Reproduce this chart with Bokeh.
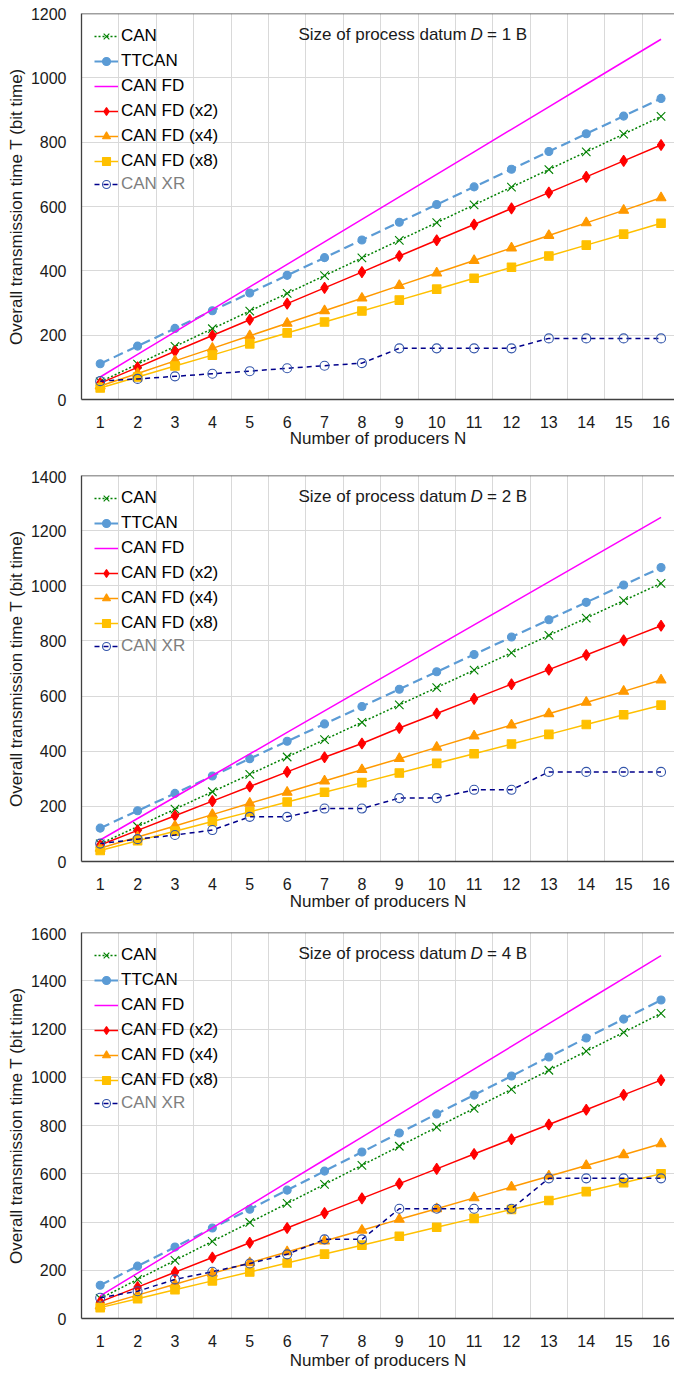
from bokeh.plotting import figure
from bokeh.layouts import column
from bokeh.models import Range1d, FixedTicker, Legend, LegendItem, Label, Span
from bokeh.embed import file_html
from bokeh.resources import INLINE

# ---------------- data ----------------
producers = [1, 2, 3, 4, 5, 6, 7, 8, 9, 10, 11, 12, 13, 14, 15, 16]
y_ticks = [0, 200, 400, 600, 800, 1000, 1200, 1400, 1600]
datum_labels = ["= 1 B", "= 2 B", "= 4 B"]
y_max = [1200, 1400, 1600]
series_names = ["CAN", "TTCAN", "CAN FD", "CAN FD (x2)", "CAN FD (x4)", "CAN FD (x8)", "CAN XR"]

# D = 1 B
can_d1 = [55, 110, 165, 220, 275, 330, 385, 440, 495, 550, 605, 660, 715, 770, 825, 880]
ttcan_d1 = [111, 166, 221, 276, 331, 386, 441, 496, 551, 606, 661, 716, 771, 826, 881, 936]
canfd_d1 = [70, 140, 210, 280, 350, 420, 490, 560, 630, 700, 770, 840, 910, 980, 1050, 1120]
canfd2_d1 = [51, 100, 150, 199, 248, 298, 347, 396, 446, 495, 544, 594, 643, 692, 742, 791]
canfd4_d1 = [42, 81, 120, 159, 198, 237, 276, 315, 354, 393, 432, 471, 510, 549, 588, 627]
canfd8_d1 = [36, 70, 104, 138, 173, 207, 241, 275, 309, 343, 377, 411, 446, 480, 514, 548]
canxr_d1 = [57, 64, 72, 80, 88, 97, 105, 113, 159, 159, 159, 159, 190, 190, 190, 190]

# D = 2 B
can_d2 = [64, 127, 190, 253, 316, 379, 442, 505, 568, 631, 694, 757, 820, 883, 946, 1009]
ttcan_d2 = [121, 184, 247, 310, 373, 436, 499, 562, 625, 688, 751, 814, 877, 940, 1003, 1066]
canfd_d2 = [78, 156, 234, 312, 390, 468, 546, 624, 702, 780, 858, 936, 1014, 1092, 1170, 1248]
canfd2_d2 = [60, 113, 166, 219, 272, 325, 378, 428, 484, 537, 590, 643, 696, 749, 802, 855]
canfd4_d2 = [48, 89, 129, 170, 211, 251, 292, 333, 373, 414, 455, 495, 536, 577, 617, 658]
canfd8_d2 = [40, 75, 110, 145, 180, 216, 251, 286, 321, 356, 391, 426, 461, 497, 532, 567]
canxr_d2 = [65, 81, 96, 114, 162, 162, 192, 192, 230, 230, 260, 260, 325, 325, 325, 325]

# D = 4 B
can_d4 = [83, 162, 241, 320, 398, 477, 556, 635, 714, 793, 871, 950, 1029, 1108, 1186, 1265]
ttcan_d4 = [138, 217, 296, 375, 453, 532, 611, 690, 769, 848, 926, 1005, 1084, 1163, 1241, 1320]
canfd_d4 = [94, 188, 282, 376, 470, 564, 658, 752, 846, 940, 1034, 1128, 1222, 1316, 1410, 1504]
canfd2_d4 = [69, 130, 192, 253, 314, 375, 437, 498, 559, 620, 682, 743, 804, 865, 927, 988]
canfd4_d4 = [52, 97, 142, 187, 231, 276, 321, 366, 411, 455, 500, 545, 590, 634, 679, 724]
canfd8_d4 = [45, 82, 119, 156, 193, 230, 267, 304, 341, 378, 415, 452, 489, 526, 563, 600]
canxr_d4 = [86, 113, 162, 194, 228, 266, 328, 328, 455, 455, 455, 455, 581, 581, 581, 581]

panels = [
    [can_d1, ttcan_d1, canfd_d1, canfd2_d1, canfd4_d1, canfd8_d1, canxr_d1],
    [can_d2, ttcan_d2, canfd_d2, canfd2_d2, canfd4_d2, canfd8_d2, canxr_d2],
    [can_d4, ttcan_d4, canfd_d4, canfd2_d4, canfd4_d4, canfd8_d4, canxr_d4],
]

# ---------------- styles ----------------
FONT = "Liberation Sans"
styles = [
    dict(color="#008000", dash="2 2", width=1.5, marker="x", size=12, fill="#008000", mline="#008000"),
    dict(color="#5B9BD5", dash="10 5", width=2.2, marker="circle", size=8, fill="#5B9BD5", mline="#5B9BD5"),
    dict(color="#FF00FF", dash="solid", width=1.5, marker=None),
    dict(color="#FF0000", dash="solid", width=1.5, marker="diamond", size=11, fill="#FF0000", mline="#FF0000"),
    dict(color="#FF9900", dash="solid", width=1.5, marker="triangle", size=10, fill="#FF9900", mline="#FF9900"),
    dict(color="#FFC000", dash="solid", width=1.5, marker="square", size=8.5, fill="#FFC000", mline="#FFC000"),
    dict(color="#00008B", dash="5 4", width=1.5, marker="circle", size=9, fill=None, mline="#3355AA"),
]

FRAME_H = 386


def make_panel(k, height, top, bottom, title_standoff):
    ymax = y_max[k]
    p = figure(width=674, height=height, output_backend="svg", toolbar_location=None,
               x_range=Range1d(0.5, 16.36), y_range=Range1d(0, ymax),
               min_border_left=81, min_border_right=0, min_border_top=top,
               min_border_bottom=bottom)
    p.outline_line_color = None
    p.background_fill_color = "white"

    # grid
    p.xgrid.ticker = FixedTicker(ticks=[x + 0.5 for x in producers])
    p.ygrid.ticker = FixedTicker(ticks=[t for t in y_ticks if t <= ymax])
    for g in (p.xgrid, p.ygrid):
        g.grid_line_color = "#D9D9D9"
        g.grid_line_width = 1

    # axes
    p.xaxis.ticker = FixedTicker(ticks=producers)
    p.yaxis.ticker = FixedTicker(ticks=[t for t in y_ticks if t <= ymax])
    for ax in (p.xaxis, p.yaxis):
        ax.major_tick_line_color = None
        ax.minor_tick_line_color = None
        ax.major_tick_out = 0
        ax.major_tick_in = 0
        ax.minor_tick_out = 0
        ax.minor_tick_in = 0
        ax.axis_line_color = "#404040"
        ax.axis_line_width = 1.3
        ax.major_label_text_font = FONT
        ax.major_label_text_font_size = "16px"
        ax.major_label_text_color = "#1a1a1a"
        ax.axis_label_text_font = FONT
        ax.axis_label_text_font_size = "17px"
        ax.axis_label_text_font_style = "normal"
        ax.axis_label_text_color = "#1a1a1a"
    p.xaxis.axis_label = "Number of producers N"
    p.yaxis.axis_label = "Overall transmission time T (bit time)"
    p.xaxis.major_label_standoff = 16
    p.xaxis.axis_label_standoff = title_standoff
    p.yaxis.major_label_standoff = 15
    p.yaxis.axis_label_standoff = 2

    # top border
    p.add_layout(Span(location=ymax, dimension="width", line_color="#404040", line_width=1.3))

    items = []
    for name, vals, st in zip(series_names, panels[k], styles):
        rs = []
        rs.append(p.line(producers, vals, line_color=st["color"], line_width=st["width"],
                         line_dash=st["dash"]))
        if st["marker"] is not None:
            if st["marker"] == "x":
                rs.append(p.scatter(producers, vals, marker="x", size=st["size"],
                                    line_color=st["mline"], line_width=1.1))
            else:
                rs.append(p.scatter(producers, vals, marker=st["marker"], size=st["size"],
                                    fill_color=st["fill"], line_color=st["mline"], line_width=1.1))
        items.append(LegendItem(label=name, renderers=rs))

    common = dict(padding=0, margin=0, spacing=5, glyph_width=24, glyph_height=20, label_height=20,
                  label_standoff=3, label_text_font=FONT, label_text_font_size="17px",
                  background_fill_alpha=0, border_line_color=None)
    # location tuples: corner of the legend, measured from frame bottom-left
    leg1 = Legend(items=items[:6], location=(13, FRAME_H - 158),
                  label_text_color="#000000", **common)
    leg2 = Legend(items=items[6:], location=(13, FRAME_H - 181),
                  label_text_color="#7F7F7F", **common)
    p.add_layout(leg1)
    p.add_layout(leg2)

    # panel title with italic D
    ty = FRAME_H - 21
    p.add_layout(Label(x=217, y=ty, x_units="screen", y_units="screen",
                       text="Size of process datum", text_font=FONT, text_font_size="17px",
                       text_baseline="alphabetic", text_color="#1a1a1a"))
    p.add_layout(Label(x=389, y=ty, x_units="screen", y_units="screen",
                       text="D", text_font=FONT, text_font_size="17px", text_font_style="italic",
                       text_baseline="alphabetic", text_color="#1a1a1a"))
    p.add_layout(Label(x=405.5, y=ty, x_units="screen", y_units="screen",
                       text=datum_labels[k], text_font=FONT, text_font_size="17px",
                       text_baseline="alphabetic", text_color="#1a1a1a"))
    return p


p1 = make_panel(0, 470, 13, 71, -2)
p2 = make_panel(1, 457, 5, 66, -1)
p3 = make_panel(2, 447, 5, 56, 1)

layout = column(p1, p2, p3, spacing=0)
open("out.html", "w").write(file_html(layout, INLINE))
